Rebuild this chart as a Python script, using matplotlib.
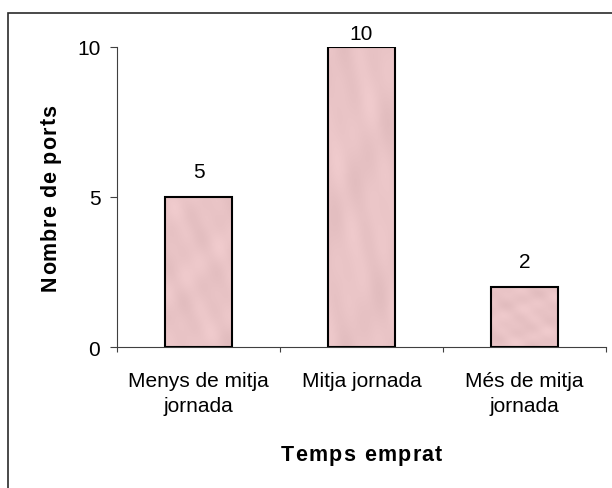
import matplotlib
matplotlib.use("Agg")
import matplotlib.pyplot as plt
from matplotlib.patches import Rectangle
from matplotlib.colors import to_rgb
from matplotlib.font_manager import FontProperties, findfont
from matplotlib.ft2font import FT2Font
import numpy as np

# --- data -------------------------------------------------------------
categories = ["Menys de mitja\njornada", "Mitja jornada", "Més de mitja\njornada"]
ports = [5, 10, 2]
y_ticks = [0, 5, 10]
x_title = "Temps emprat"
y_title = "Nombre de ports"

# --- figure -----------------------------------------------------------
W, H, DPI = 612, 489, 100
plt.rcParams["font.family"] = ["Liberation Sans", "DejaVu Sans"]
fig = plt.figure(figsize=(W / DPI, H / DPI), dpi=DPI)
fig.patch.set_facecolor("white")

# chart-area frame (its right and bottom edges run off the canvas)
fig.add_artist(Rectangle((8 / W, -0.2), 1.5, 1.2 - 14 / H,
                         transform=fig.transFigure, fill=False,
                         edgecolor="#2a2a2a", linewidth=1.2, clip_on=False))

ax = fig.add_axes([117 / W, 1 - 348 / H, (606 - 117) / W, 300 / H])
ax.set_facecolor("none")

BAR_COLOR = "#E9C4C6"
x = np.arange(len(categories))
bars = ax.bar(x, ports, width=0.41, color=BAR_COLOR, edgecolor="none",
              linewidth=0, zorder=3)

# soft mottled "tissue" fill inside each bar
base = np.array(to_rgb(BAR_COLOR))
for k, patch in enumerate(bars.patches):
    gx, gy = np.meshgrid(np.linspace(0, 1, 40), np.linspace(0, 1, 120))
    ph = 1.7 * k
    f = (np.sin(11 * gx + 7 * gy + ph) + np.sin(5 * gx - 13 * gy + 2 * ph)
         + 0.8 * np.sin(17 * gx + 19 * gy + 0.5) + 0.6 * np.sin(23 * gy - 9 * gx + ph)) / 3.4
    tex = np.clip(base[None, None, :] + f[..., None] * 0.03, 0, 1)
    x0, y0 = patch.get_x(), patch.get_y()
    im = ax.imshow(tex, extent=[x0, x0 + patch.get_width(), y0, y0 + patch.get_height()],
                   aspect="auto", interpolation="bicubic", zorder=3.5, origin="lower")
    im.set_clip_path(patch)

ax.bar(x, ports, width=0.41, facecolor="none", edgecolor="black",
       linewidth=1.5, zorder=4)

ax.set_aspect("auto")
ax.set_xlim(-0.5, len(categories) - 0.5)
ax.set_ylim(0, y_ticks[-1])

# spines
for s in ("top", "right"):
    ax.spines[s].set_visible(False)
for s in ("left", "bottom"):
    ax.spines[s].set_color("#404040")
    ax.spines[s].set_linewidth(0.8)

LABEL_SIZE = 15

# y axis
ax.set_yticks(y_ticks)
ax.set_yticklabels([str(t) for t in y_ticks])
ax.tick_params(axis="y", direction="out", length=5, width=0.8,
               color="#404040", labelsize=LABEL_SIZE, pad=7)

# x axis: tick marks on category boundaries, labels centred on bars
ax.set_xticks(np.arange(-0.5, len(categories)))
ax.set_xticklabels([])
ax.set_xticks(x, minor=True)
ax.set_xticklabels(categories, minor=True, linespacing=1.35)
ax.tick_params(axis="x", which="major", direction="out", length=3.6,
               width=0.8, color="#404040")
ax.tick_params(axis="x", which="minor", length=0, labelsize=LABEL_SIZE, pad=17.5)

# value labels above bars
for xi, v in zip(x, ports):
    off = 5.8 if v >= y_ticks[-1] else 14.4
    ax.annotate(str(v), (xi, v), xytext=(0, off), textcoords="offset points",
                ha="center", va="baseline", fontsize=LABEL_SIZE, clip_on=False)


def tracked_text(s, cx, base_px, size, tracking_px, vertical=False):
    """Bold text with extra letter spacing, centred on cx (pixels)."""
    fp = FontProperties(family="Liberation Sans", weight="bold", size=size)
    font = FT2Font(findfont(fp))
    font.set_size(size, DPI)
    adv = [font.load_char(ord(c)).linearHoriAdvance / 65536 for c in s]
    total = sum(adv) + tracking_px * (len(s) - 1)
    pos = 0.0
    for c, a in zip(s, adv):
        if vertical:
            # text runs bottom to top, baseline at x = base_px
            fig.text(base_px / W, 1 - (cx + total / 2 - pos) / H, c,
                     fontproperties=fp, rotation=90, rotation_mode="anchor",
                     ha="left", va="baseline")
        else:
            fig.text((cx - total / 2 + pos) / W, 1 - base_px / H, c,
                     fontproperties=fp, ha="left", va="baseline")
        pos += a + tracking_px


tracked_text(x_title, 361.5, 461, 15.5, 1.3)
tracked_text(y_title, 198, 56, 15.5, 1.0, vertical=True)

fig.savefig("out.png", dpi=DPI, facecolor="white")
